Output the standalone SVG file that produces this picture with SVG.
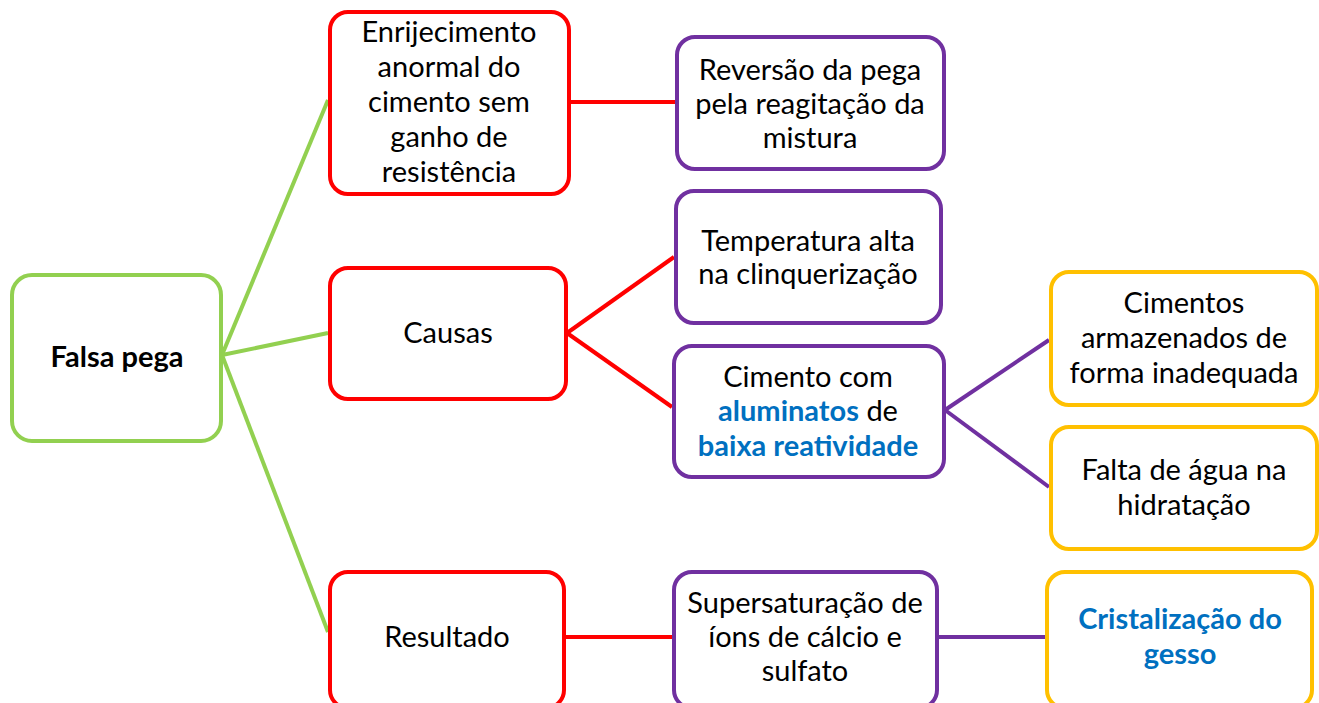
<svg xmlns="http://www.w3.org/2000/svg" width="1319" height="703" viewBox="0 0 1319 703">
<style>
.box{fill:#fff;stroke-width:4}
.g{stroke:#92D050}.r{stroke:#FF0000}.p{stroke:#7030A0}.y{stroke:#FFC000}
.t{font-family:Lato,"Open Sans","Liberation Sans",sans-serif;font-size:29px;fill:#000;text-anchor:middle}
.b{font-weight:bold}.bl{fill:#0070C0;font-weight:bold}
.c{fill:none;stroke-width:4}
</style>
<rect width="1319" height="703" fill="#fff"/>
<g id="connectors">
<line class="c g" x1="222" y1="355" x2="328" y2="100"/>
<line class="c g" x1="222" y1="355" x2="328" y2="333"/>
<line class="c g" x1="222" y1="355" x2="328" y2="632"/>
<line class="c r" x1="570" y1="102" x2="675" y2="102"/>
<line class="c r" x1="567" y1="333" x2="674" y2="257"/>
<line class="c r" x1="567" y1="333" x2="672" y2="407"/>
<line class="c p" x1="945" y1="410" x2="1049" y2="340"/>
<line class="c p" x1="945" y1="410" x2="1049" y2="487"/>
<line class="c r" x1="565" y1="637" x2="672" y2="637"/>
<line class="c p" x1="938" y1="637" x2="1045" y2="637"/>
</g>
<g id="falsa-pega">
<rect class="box g" x="12" y="275" width="209" height="166" rx="20"/>
<text class="t b" x="117" y="367">Falsa pega</text>
</g>
<g id="enrijecimento">
<rect class="box r" x="330" y="12" width="239" height="182" rx="18"/>
<text class="t" x="449" y="42">Enrijecimento</text>
<text class="t" x="449" y="77">anormal do</text>
<text class="t" x="449" y="112">cimento sem</text>
<text class="t" x="449" y="147">ganho de</text>
<text class="t" x="449" y="182">resistência</text>
</g>
<g id="causas">
<rect class="box r" x="330" y="268" width="236" height="131" rx="18"/>
<text class="t" x="448" y="343">Causas</text>
</g>
<g id="resultado">
<rect class="box r" x="330" y="572" width="234" height="136" rx="18"/>
<text class="t" x="447" y="647">Resultado</text>
</g>
<g id="reversao">
<rect class="box p" x="677" y="37" width="267" height="132" rx="18"/>
<text class="t" x="810" y="80">Reversão da pega</text>
<text class="t" x="810" y="114">pela reagitação da</text>
<text class="t" x="810" y="148">mistura</text>
</g>
<g id="temperatura">
<rect class="box p" x="676" y="191" width="265" height="132" rx="18"/>
<text class="t" x="808" y="251">Temperatura alta</text>
<text class="t" x="808" y="284">na clinquerização</text>
</g>
<g id="cimento-com">
<rect class="box p" x="674" y="346" width="270" height="131" rx="18"/>
<text class="t" x="808" y="387">Cimento com</text>
<text class="t" x="808" y="421"><tspan class="bl">aluminatos</tspan> de</text>
<text class="t bl" x="808" y="456">baixa reatividade</text>
</g>
<g id="armazenados">
<rect class="box y" x="1051" y="272" width="266" height="133" rx="18"/>
<text class="t" x="1184" y="313">Cimentos</text>
<text class="t" x="1184" y="348">armazenados de</text>
<text class="t" x="1184" y="383">forma inadequada</text>
</g>
<g id="falta-agua">
<rect class="box y" x="1051" y="427" width="266" height="122" rx="18"/>
<text class="t" x="1184" y="480">Falta de água na</text>
<text class="t" x="1184" y="515">hidratação</text>
</g>
<g id="supersaturacao">
<rect class="box p" x="674" y="572" width="263" height="136" rx="18"/>
<text class="t" x="805" y="613">Supersaturação de</text>
<text class="t" x="805" y="647">íons de cálcio e</text>
<text class="t" x="805" y="681">sulfato</text>
</g>
<g id="cristalizacao">
<rect class="box y" x="1047" y="572" width="265" height="136" rx="18"/>
<text class="t bl" x="1180" y="629">Cristalização do</text>
<text class="t bl" x="1180" y="664">gesso</text>
</g>
</svg>
